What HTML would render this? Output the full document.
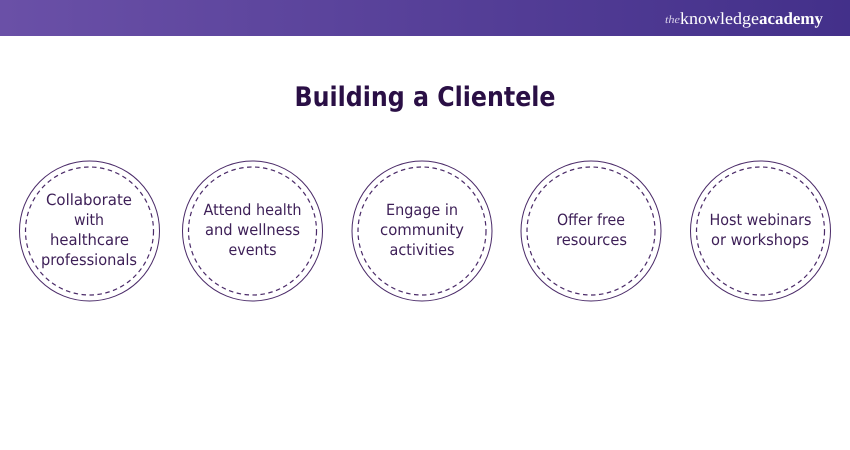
<!DOCTYPE html>
<html><head><meta charset="utf-8"><style>
html,body{margin:0;padding:0;background:#fff;width:850px;height:450px;overflow:hidden}
svg{display:block;text-rendering:geometricPrecision}
.t{font-family:"DejaVu Sans",sans-serif;font-size:15.5px;fill:#3d1f57;text-anchor:middle}
</style></head><body>
<svg width="850" height="450" viewBox="0 0 850 450" xmlns="http://www.w3.org/2000/svg">
<defs><linearGradient id="g" x1="0" x2="1" y1="0" y2="0"><stop offset="0" stop-color="#6a50a7"/><stop offset="1" stop-color="#43308a"/></linearGradient></defs>
<rect width="850" height="36" fill="url(#g)"/>
<text x="665" y="23" font-family="Liberation Serif,serif" font-size="11" font-style="italic" fill="#d8d0ea" textLength="15" lengthAdjust="spacingAndGlyphs">the</text>
<text x="680" y="24" font-family="Liberation Serif,serif" font-size="17" fill="#fff" textLength="79" lengthAdjust="spacingAndGlyphs">knowledge</text>
<text x="759" y="24" font-family="Liberation Serif,serif" font-size="17" font-weight="bold" fill="#fff" textLength="64" lengthAdjust="spacingAndGlyphs">academy</text>
<text x="425" y="106" font-family="DejaVu Sans,sans-serif" font-size="27" font-weight="bold" fill="#2a0f45" text-anchor="middle" textLength="261" lengthAdjust="spacingAndGlyphs">Building a Clientele</text>
<g fill="none" stroke="#4a2a68">
<circle cx="89.5" cy="231" r="70" stroke-width="1"/><circle cx="89.5" cy="231" r="64" stroke-width="1.2" stroke-dasharray="4.5 3.5"/>
<circle cx="252.5" cy="231" r="70" stroke-width="1"/><circle cx="252.5" cy="231" r="64" stroke-width="1.2" stroke-dasharray="4.5 3.5"/>
<circle cx="422" cy="231" r="70" stroke-width="1"/><circle cx="422" cy="231" r="64" stroke-width="1.2" stroke-dasharray="4.5 3.5"/>
<circle cx="591" cy="231" r="70" stroke-width="1"/><circle cx="591" cy="231" r="64" stroke-width="1.2" stroke-dasharray="4.5 3.5"/>
<circle cx="760.5" cy="231" r="70" stroke-width="1"/><circle cx="760.5" cy="231" r="64" stroke-width="1.2" stroke-dasharray="4.5 3.5"/>
</g>
<g>
<text class="t" x="89" y="205" textLength="86" lengthAdjust="spacingAndGlyphs">Collaborate</text>
<text class="t" x="89" y="225" textLength="30" lengthAdjust="spacingAndGlyphs">with</text>
<text class="t" x="89.5" y="245" textLength="79" lengthAdjust="spacingAndGlyphs">healthcare</text>
<text class="t" x="89" y="265" textLength="96" lengthAdjust="spacingAndGlyphs">professionals</text>
<text class="t" x="252.5" y="215" textLength="98" lengthAdjust="spacingAndGlyphs">Attend health</text>
<text class="t" x="252.5" y="235" textLength="95" lengthAdjust="spacingAndGlyphs">and wellness</text>
<text class="t" x="252.5" y="255" textLength="48" lengthAdjust="spacingAndGlyphs">events</text>
<text class="t" x="422" y="215" textLength="72" lengthAdjust="spacingAndGlyphs">Engage in</text>
<text class="t" x="422" y="235" textLength="84" lengthAdjust="spacingAndGlyphs">community</text>
<text class="t" x="422" y="255" textLength="65" lengthAdjust="spacingAndGlyphs">activities</text>
<text class="t" x="591" y="225" textLength="68" lengthAdjust="spacingAndGlyphs">Offer free</text>
<text class="t" x="591.5" y="245" textLength="71" lengthAdjust="spacingAndGlyphs">resources</text>
<text class="t" x="760.5" y="225" textLength="102" lengthAdjust="spacingAndGlyphs">Host webinars</text>
<text class="t" x="760" y="245" textLength="98" lengthAdjust="spacingAndGlyphs">or workshops</text>
</g>
</svg>
</body></html>
